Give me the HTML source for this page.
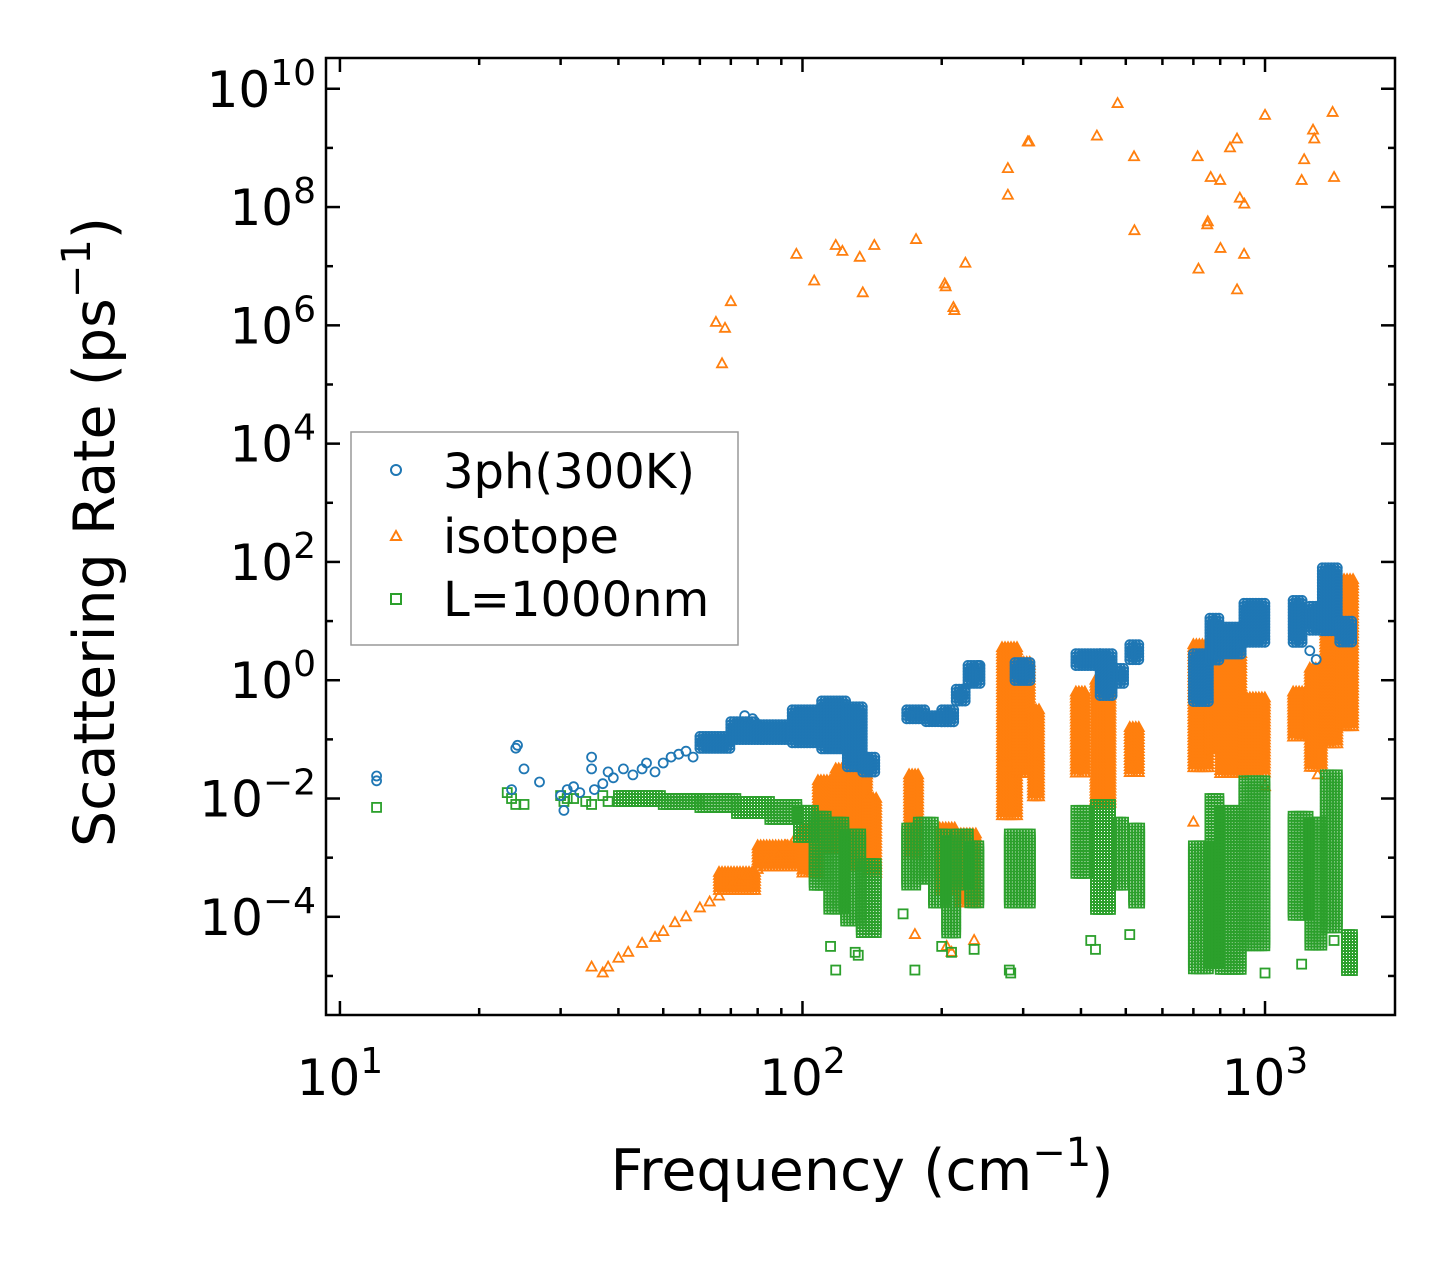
<!DOCTYPE html>
<html><head><meta charset="utf-8"><style>
body{margin:0;background:#fff}
svg{display:block;font-family:"DejaVu Sans","Liberation Sans",sans-serif}
</style></head><body>
<svg id="chart" width="1455" height="1265" viewBox="0 0 1455 1265" xmlns="http://www.w3.org/2000/svg">
<rect width="1455" height="1265" fill="#fff"/>
<g id="marks"></g>
<g id="axes"></g>
<text x="862" y="1190" font-size="57" text-anchor="middle">Frequency (cm<tspan dy="-24" font-size="40">−1</tspan><tspan dy="24">)</tspan></text>
<text transform="translate(114,532) rotate(-90)" font-size="57" text-anchor="middle">Scattering Rate (ps<tspan dy="-24" font-size="40">−1</tspan><tspan dy="24">)</tspan></text>
<g>
<rect x="351" y="432" width="387" height="213" fill="#fff" stroke="#999" stroke-width="1.5"/>
<circle cx="396" cy="470" r="5" fill="none" stroke="#1f77b4" stroke-width="2"/>
<text x="443" y="488" font-size="48">3ph(300K)</text>
<polygon points="396,531 401,540 391,540" fill="none" stroke="#ff7f0e" stroke-width="2"/>
<text x="443" y="553" font-size="48">isotope</text>
<rect x="391" y="594" width="10" height="10" fill="none" stroke="#2ca02c" stroke-width="2"/>
<text x="443" y="616" font-size="48">L=1000nm</text>
</g>
</svg>
<script>
// data: [frequency cm^-1, log10(rate ps^-1)]
const phPoints=[[12,-1.7],[12,-1.62],[23.5,-1.85],[24,-1.15],[24.2,-1.1],[25,-1.5],[27,-1.72],[30,-1.95],[30.5,-2.2],[31,-1.85],[32,-1.8],[33,-1.9],[35,-1.3],[35,-1.5],[35.5,-1.85],[37,-1.75],[38,-1.55],[39,-1.65],[41,-1.5],[43,-1.6],[45,-1.5],[46,-1.4],[48,-1.55],[50,-1.4],[52,-1.3],[54,-1.25],[56,-1.2],[58,-1.3],[75,-0.6],[78,-0.65],[171,-0.6],[240,0.25],[1290,0.35],[1250,0.5]];
// bands: [f0, f1, logLow, logHigh]
const phBands=[[60,70,-1.2,-0.95],[70,80,-1.05,-0.7],[80,95,-1.05,-0.75],[95,110,-1.1,-0.5],[110,125,-1.2,-0.35],[125,135,-1.5,-0.45],[135,145,-1.6,-1.3],[168,185,-0.7,-0.5],[185,200,-0.75,-0.6],[200,215,-0.75,-0.5],[215,228,-0.4,-0.15],[228,242,-0.1,0.25],[288,312,-0.05,0.3],[390,440,0.2,0.45],[440,470,-0.3,0.45],[480,500,-0.1,0.2],[510,540,0.3,0.6],[700,760,-0.4,0.45],[760,800,0.3,1.05],[800,900,0.4,0.9],[900,1010,0.6,1.3],[1150,1210,0.6,1.35],[1250,1330,0.8,1.25],[1330,1450,0.8,1.9],[1450,1550,0.6,1.0]];
const isoPoints=[[65,6.05],[68,5.95],[70,6.4],[67,5.35],[97,7.2],[106,6.75],[118,7.35],[122,7.25],[133,7.15],[135,6.55],[143,7.35],[176,7.45],[203,6.7],[204,6.65],[212,6.3],[213,6.25],[225,7.05],[278,8.65],[278,8.2],[307,9.1],[309,9.1],[433,9.2],[480,9.75],[521,8.85],[522,7.6],[715,8.85],[718,6.95],[752,7.75],[750,7.7],[763,8.5],[800,8.45],[801,7.3],[840,9.0],[870,9.15],[870,6.6],[882,8.15],[902,8.05],[901,7.2],[1000,9.55],[1200,8.45],[1215,8.8],[1270,9.3],[1278,9.15],[1400,9.6],[1410,8.5],
[35,-4.85],[37,-4.95],[38,-4.85],[40,-4.7],[42,-4.6],[45,-4.45],[48,-4.35],[50,-4.25],[53,-4.1],[56,-4.0],[60,-3.85],[63,-3.75],[66,-3.65],[70,-3.5],[73,-3.4],[76,-3.3],[80,-3.2],[84,-3.05],[88,-2.95],[92,-2.8],[96,-2.7],[205,-4.5],[210,-4.6],[235,-4.4],[175,-4.3],[700,-2.4],[1000,-1.8],[1300,-1.6]];
const isoBands=[[66,80,-3.6,-3.25],[80,100,-3.2,-2.8],[100,108,-3.3,-2.5],[108,118,-2.9,-1.7],[118,128,-2.7,-1.5],[128,138,-3.2,-1.4],[138,146,-3.3,-2.0],[170,180,-3.0,-1.6],[198,215,-3.6,-2.5],[220,240,-3.8,-2.6],[270,292,-2.3,0.55],[292,312,-1.6,0.3],[315,325,-2.0,-0.5],[390,412,-1.6,-0.2],[430,470,-2.1,0.0],[510,540,-1.6,-0.8],[700,760,-1.5,0.6],[760,800,-1.2,0.6],[800,900,-1.6,0.45],[900,1000,-1.6,-0.3],[1150,1250,-1.0,-0.2],[1250,1330,-1.5,0.2],[1350,1450,-1.1,0.8],[1460,1550,-0.8,1.7]];
const blPoints=[[12,-2.15],[23,-1.9],[23.5,-2.0],[24,-2.1],[25,-2.1],[30,-1.95],[30.5,-2.05],[31,-2.0],[32,-2.0],[34,-2.05],[35,-2.1],[37,-1.95],[38,-2.05],[115,-4.5],[118,-4.9],[130,-4.6],[132,-4.65],[165,-3.95],[175,-4.9],[200,-4.5],[210,-4.6],[235,-4.55],[280,-4.9],[282,-4.95],[420,-4.4],[430,-4.55],[510,-4.3],[1000,-4.95],[1200,-4.8],[1410,-4.4]];
const blBands=[[40,50,-2.1,-1.95],[50,60,-2.15,-2.0],[60,72,-2.2,-2.0],[72,85,-2.3,-2.05],[85,98,-2.4,-2.1],[98,106,-2.7,-2.2],[106,114,-3.5,-2.3],[114,124,-3.9,-2.4],[124,134,-4.1,-2.6],[134,146,-4.3,-3.1],[168,178,-3.5,-2.5],[178,192,-3.4,-2.4],[192,205,-3.8,-2.6],[205,215,-4.3,-2.7],[215,230,-3.5,-2.6],[230,242,-3.8,-2.8],[280,312,-3.8,-2.6],[390,420,-3.3,-2.2],[430,470,-3.9,-2.1],[480,500,-3.5,-2.4],[520,540,-3.8,-2.5],[700,760,-4.9,-2.8],[760,800,-4.8,-2.0],[800,900,-4.9,-2.2],[900,1010,-4.5,-1.7],[1150,1250,-4.0,-2.3],[1250,1330,-4.5,-2.4],[1350,1450,-4.2,-1.6],[1500,1550,-4.95,-4.3]];
const xTickExps=[1,2,3];
const yTickExps=[-4,-2,0,2,4,6,8,10];

const L=326,R=1395,T=58,B=1015;
const xMin=Math.log10(9.33),xMax=3.281,yMin=-5.66,yMax=10.52;
const X=f=>L+(Math.log10(f)-xMin)/(xMax-xMin)*(R-L);
const Y=v=>B-(v-yMin)/(yMax-yMin)*(B-T);
const NS='http://www.w3.org/2000/svg';
const marks=document.getElementById('marks'),axes=document.getElementById('axes');
function mk(tag,attrs,parent){const e=document.createElementNS(NS,tag);for(const k in attrs)e.setAttribute(k,attrs[k]);parent.appendChild(e);return e;}
function marker(kind,cx,cy,g,color){
 let e;
 if(kind==='c')e=mk('circle',{cx:cx.toFixed(1),cy:cy.toFixed(1),r:4.5,fill:'none',stroke:color,'stroke-width':1.8},g);
 else if(kind==='t')e=mk('polygon',{points:`${cx},${cy-5.5} ${cx+5},${cy+3.5} ${cx-5},${cy+3.5}`,fill:'none',stroke:color,'stroke-width':1.8},g);
 else e=mk('rect',{x:cx-4.5,y:cy-4.5,width:9,height:9,fill:'none',stroke:color,'stroke-width':1.8},g);
 return e;
}
function series(name,kind,color,pts,bands){
 const g=mk('g',{},marks);
 
 
 bands.forEach(b=>{
  const x0=X(b[0]),x1=X(b[1]),y0=Y(b[3]),y1=Y(b[2]);
  for(let x=x0;x<=x1+0.1;x+=3){for(let y=y0;y<=y1+0.1;y+=3){
   const m=marker(kind,x,y,g,color);
   
   
  }}
 });
 pts.forEach(p=>{
  const m=marker(kind,X(p[0]),Y(p[1]),g,color);
  
  
 });
}
series('isotope','t','#ff7f0e',isoPoints,isoBands);
series('boundary','s','#2ca02c',blPoints,blBands);
series('three-phonon','c','#1f77b4',phPoints,phBands);
const fr=mk('rect',{x:L,y:T,width:R-L,height:B-T,fill:'none',stroke:'#000','stroke-width':2.5},axes);

function tick(x1,y1,x2,y2,nm){const t=mk('line',{x1,y1,x2,y2,stroke:'#000','stroke-width':2.5},axes);}
for(let e=0;e<=3;e++){for(let m=1;m<10;m++){const f=m*Math.pow(10,e);const x=X(f);if(x<L||x>R)continue;
 const len=m===1?14:7;tick(x,B,x,B-len,'x-tick');tick(x,T,x,T+len,'x-tick');}}
xTickExps.forEach(e=>{const t=mk('text',{x:X(Math.pow(10,e)),y:1095,'font-size':50,'text-anchor':'middle'},axes);
 
 t.innerHTML=`10<tspan dy="-22" font-size="36">${e}</tspan>`;});
for(let v=-5;v<=10;v++){const y=Y(v);const len=v%2===0?14:7;tick(L,y,L+len,y,'y-tick');tick(R,y,R-len,y,'y-tick');}
yTickExps.forEach(e=>{const t=mk('text',{x:316,y:Y(e)+18,'font-size':50,'text-anchor':'end'},axes);
 
 t.innerHTML=`10<tspan dy="-22" font-size="36">${e<0?'−'+(-e):e}</tspan>`;});
</script>
</body></html>
